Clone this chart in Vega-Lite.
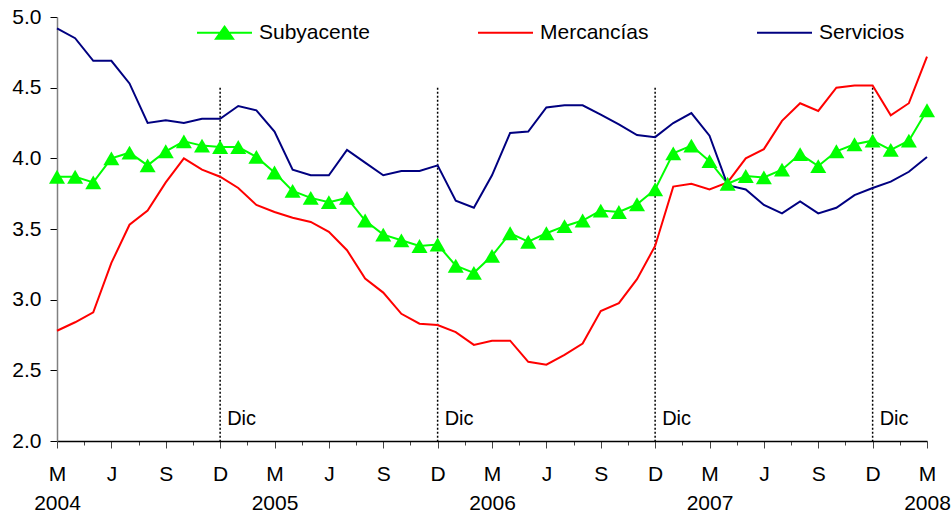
{
  "$schema": "https://vega.github.io/schema/vega-lite/v6.json",
  "width": 870,
  "height": 424,
  "autosize": {"type": "none"},
  "padding": {"left": 57, "top": 17, "right": 24, "bottom": 71},
  "background": "white",
  "config": {"view": {"stroke": null}, "font": "Liberation Sans"},
  "datasets": {
    "datos": [
      {"fecha": "2004-03", "i": 0, "Subyacente": 3.87, "Mercancías": 2.78, "Servicios": 4.92},
      {"fecha": "2004-04", "i": 1, "Subyacente": 3.87, "Mercancías": 2.84, "Servicios": 4.85},
      {"fecha": "2004-05", "i": 2, "Subyacente": 3.83, "Mercancías": 2.91, "Servicios": 4.69},
      {"fecha": "2004-06", "i": 3, "Subyacente": 4.0, "Mercancías": 3.26, "Servicios": 4.69},
      {"fecha": "2004-07", "i": 4, "Subyacente": 4.04, "Mercancías": 3.53, "Servicios": 4.53},
      {"fecha": "2004-08", "i": 5, "Subyacente": 3.95, "Mercancías": 3.63, "Servicios": 4.25},
      {"fecha": "2004-09", "i": 6, "Subyacente": 4.05, "Mercancías": 3.83, "Servicios": 4.27},
      {"fecha": "2004-10", "i": 7, "Subyacente": 4.12, "Mercancías": 4.0, "Servicios": 4.25},
      {"fecha": "2004-11", "i": 8, "Subyacente": 4.09, "Mercancías": 3.92, "Servicios": 4.28},
      {"fecha": "2004-12", "i": 9, "Subyacente": 4.08, "Mercancías": 3.87, "Servicios": 4.28},
      {"fecha": "2005-01", "i": 10, "Subyacente": 4.08, "Mercancías": 3.79, "Servicios": 4.37},
      {"fecha": "2005-02", "i": 11, "Subyacente": 4.01, "Mercancías": 3.67, "Servicios": 4.34},
      {"fecha": "2005-03", "i": 12, "Subyacente": 3.9, "Mercancías": 3.62, "Servicios": 4.19},
      {"fecha": "2005-04", "i": 13, "Subyacente": 3.77, "Mercancías": 3.58, "Servicios": 3.92},
      {"fecha": "2005-05", "i": 14, "Subyacente": 3.72, "Mercancías": 3.55, "Servicios": 3.88},
      {"fecha": "2005-06", "i": 15, "Subyacente": 3.69, "Mercancías": 3.48, "Servicios": 3.88},
      {"fecha": "2005-07", "i": 16, "Subyacente": 3.72, "Mercancías": 3.35, "Servicios": 4.06},
      {"fecha": "2005-08", "i": 17, "Subyacente": 3.56, "Mercancías": 3.15, "Servicios": 3.97},
      {"fecha": "2005-09", "i": 18, "Subyacente": 3.46, "Mercancías": 3.05, "Servicios": 3.88},
      {"fecha": "2005-10", "i": 19, "Subyacente": 3.42, "Mercancías": 2.9, "Servicios": 3.91},
      {"fecha": "2005-11", "i": 20, "Subyacente": 3.38, "Mercancías": 2.83, "Servicios": 3.91},
      {"fecha": "2005-12", "i": 21, "Subyacente": 3.39, "Mercancías": 2.82, "Servicios": 3.95},
      {"fecha": "2006-01", "i": 22, "Subyacente": 3.24, "Mercancías": 2.77, "Servicios": 3.7},
      {"fecha": "2006-02", "i": 23, "Subyacente": 3.19, "Mercancías": 2.68, "Servicios": 3.65},
      {"fecha": "2006-03", "i": 24, "Subyacente": 3.31, "Mercancías": 2.71, "Servicios": 3.88},
      {"fecha": "2006-04", "i": 25, "Subyacente": 3.47, "Mercancías": 2.71, "Servicios": 4.18},
      {"fecha": "2006-05", "i": 26, "Subyacente": 3.41, "Mercancías": 2.56, "Servicios": 4.19},
      {"fecha": "2006-06", "i": 27, "Subyacente": 3.47, "Mercancías": 2.54, "Servicios": 4.36},
      {"fecha": "2006-07", "i": 28, "Subyacente": 3.52, "Mercancías": 2.61, "Servicios": 4.375},
      {"fecha": "2006-08", "i": 29, "Subyacente": 3.56, "Mercancías": 2.69, "Servicios": 4.375},
      {"fecha": "2006-09", "i": 30, "Subyacente": 3.63, "Mercancías": 2.92, "Servicios": 4.31},
      {"fecha": "2006-10", "i": 31, "Subyacente": 3.62, "Mercancías": 2.975, "Servicios": 4.24},
      {"fecha": "2006-11", "i": 32, "Subyacente": 3.675, "Mercancías": 3.145, "Servicios": 4.165},
      {"fecha": "2006-12", "i": 33, "Subyacente": 3.78, "Mercancías": 3.38, "Servicios": 4.15},
      {"fecha": "2007-01", "i": 34, "Subyacente": 4.035, "Mercancías": 3.8, "Servicios": 4.25},
      {"fecha": "2007-02", "i": 35, "Subyacente": 4.09, "Mercancías": 3.82, "Servicios": 4.32},
      {"fecha": "2007-03", "i": 36, "Subyacente": 3.98, "Mercancías": 3.78, "Servicios": 4.16},
      {"fecha": "2007-04", "i": 37, "Subyacente": 3.82, "Mercancías": 3.83, "Servicios": 3.81},
      {"fecha": "2007-05", "i": 38, "Subyacente": 3.875, "Mercancías": 4.0, "Servicios": 3.78},
      {"fecha": "2007-06", "i": 39, "Subyacente": 3.865, "Mercancías": 4.065, "Servicios": 3.67},
      {"fecha": "2007-07", "i": 40, "Subyacente": 3.92, "Mercancías": 4.265, "Servicios": 3.61},
      {"fecha": "2007-08", "i": 41, "Subyacente": 4.03, "Mercancías": 4.39, "Servicios": 3.695},
      {"fecha": "2007-09", "i": 42, "Subyacente": 3.945, "Mercancías": 4.335, "Servicios": 3.61},
      {"fecha": "2007-10", "i": 43, "Subyacente": 4.05, "Mercancías": 4.5, "Servicios": 3.65},
      {"fecha": "2007-11", "i": 44, "Subyacente": 4.1, "Mercancías": 4.515, "Servicios": 3.74},
      {"fecha": "2007-12", "i": 45, "Subyacente": 4.125, "Mercancías": 4.515, "Servicios": 3.79},
      {"fecha": "2008-01", "i": 46, "Subyacente": 4.06, "Mercancías": 4.305, "Servicios": 3.835},
      {"fecha": "2008-02", "i": 47, "Subyacente": 4.125, "Mercancías": 4.39, "Servicios": 3.905},
      {"fecha": "2008-03", "i": 48, "Subyacente": 4.34, "Mercancías": 4.72, "Servicios": 4.01}
    ],
    "diciembres": [
      {"i": 9, "etiqueta": "Dic"},
      {"i": 21, "etiqueta": "Dic"},
      {"i": 33, "etiqueta": "Dic"},
      {"i": 45, "etiqueta": "Dic"}
    ]
  },
  "encoding": {
    "x": {
      "field": "i",
      "type": "quantitative",
      "scale": {"domain": [0, 48], "nice": false, "zero": false},
      "axis": {
        "title": null,
        "grid": false,
        "values": [0, 1.5, 3, 4.5, 6, 7.5, 9, 10.5, 12, 13.5, 15, 16.5, 18, 19.5, 21, 22.5, 24, 25.5, 27, 28.5, 30, 31.5, 33, 34.5, 36, 37.5, 39, 40.5, 42, 43.5, 45, 46.5, 48],
        "labelExpr": "datum.value % 3 !== 0 ? '' : (datum.value % 12 === 0 ? [['M','J','S','D'][(datum.value / 3) % 4], '' + (2004 + datum.value / 12)] : ['M','J','S','D'][(datum.value / 3) % 4])",
        "labelFont": "Liberation Sans",
        "labelFontSize": 21,
        "labelColor": "black",
        "labelFlush": false,
        "labelOverlap": false,
        "labelBound": false,
        "labelBaseline": "top",
        "labelPadding": 15,
        "labelLineHeight": 29,
        "tickSize": {"condition": {"test": "datum.value % 3 === 0", "value": 7}, "value": 4},
        "tickColor": "#444444",
        "tickWidth": 1,
        "domainColor": "black",
        "domainWidth": 1.5
      }
    }
  },
  "layer": [
    {
      "data": {"name": "diciembres"},
      "mark": {"type": "rule", "color": "black", "strokeWidth": 1.5, "strokeDash": [2, 2]},
      "encoding": {
        "y": {"datum": 4.5, "type": "quantitative", "scale": {"domain": [2, 5], "nice": false, "zero": false},
          "axis": {"title": null, "grid": false, "values": [2, 2.5, 3, 3.5, 4, 4.5, 5], "format": ".1f", "labelFont": "Liberation Sans", "labelFontSize": 21, "labelColor": "black", "labelOverlap": false, "labelPadding": 9, "tickSize": 7, "tickColor": "black", "domainColor": "#808080", "domainWidth": 1.5}},
        "y2": {"datum": 2}
      }
    },
    {
      "data": {"name": "diciembres"},
      "mark": {"type": "text", "align": "left", "baseline": "alphabetic", "dx": 7, "dy": -16, "fontSize": 20, "font": "Liberation Sans", "color": "black"},
      "encoding": {
        "y": {"datum": 2, "type": "quantitative",
          "axis": {"title": null, "grid": false, "values": [2, 2.5, 3, 3.5, 4, 4.5, 5], "format": ".1f", "labelFont": "Liberation Sans", "labelFontSize": 21, "labelColor": "black", "labelOverlap": false, "labelPadding": 9, "tickSize": 7, "tickColor": "black", "domainColor": "#808080", "domainWidth": 1.5}},
        "text": {"field": "etiqueta"}
      }
    },
    {
      "data": {"name": "datos"},
      "transform": [{"fold": ["Subyacente", "Mercancías", "Servicios"], "as": ["serie", "valor"]}],
      "mark": {"type": "line", "strokeWidth": 2},
      "encoding": {
        "y": {"field": "valor", "type": "quantitative",
          "axis": {"title": null, "grid": false, "values": [2, 2.5, 3, 3.5, 4, 4.5, 5], "format": ".1f", "labelFont": "Liberation Sans", "labelFontSize": 21, "labelColor": "black", "labelOverlap": false, "labelPadding": 9, "tickSize": 7, "tickColor": "black", "domainColor": "#808080", "domainWidth": 1.5}},
        "color": {
          "field": "serie",
          "type": "nominal",
          "sort": ["Subyacente", "Mercancías", "Servicios"],
          "scale": {"domain": ["Subyacente", "Mercancías", "Servicios"], "range": ["#00ff00", "#ff0000", "#000080"]},
          "legend": {
            "title": null,
            "orient": "none",
            "legendX": 139,
            "legendY": -13,
            "direction": "horizontal",
            "symbolType": "stroke",
            "symbolSize": 3025,
            "symbolStrokeWidth": 2,
            "labelFont": "Liberation Sans",
            "labelFontSize": 21,
            "labelColor": "black",
            "labelOffset": 6,
            "columnPadding": 104,
            "encode": {
              "symbols": {
                "update": {
                  "shape": {"signal": "datum.value === 'Subyacente' ? 'M-1,0L1,0M0,-0.22L0.31,0.22L-0.31,0.22Z' : 'stroke'"},
                  "fill": {"signal": "datum.value === 'Subyacente' ? '#00ff00' : 'transparent'"}
                }
              }
            }
          }
        }
      }
    },
    {
      "data": {"name": "datos"},
      "mark": {"type": "point", "shape": "triangle-up", "filled": true, "size": 256, "color": "#00ff00", "opacity": 1},
      "encoding": {
        "y": {"field": "Subyacente", "type": "quantitative",
          "axis": {"title": null, "grid": false, "values": [2, 2.5, 3, 3.5, 4, 4.5, 5], "format": ".1f", "labelFont": "Liberation Sans", "labelFontSize": 21, "labelColor": "black", "labelOverlap": false, "labelPadding": 9, "tickSize": 7, "tickColor": "black", "domainColor": "#808080", "domainWidth": 1.5}}
      }
    }
  ]
}
